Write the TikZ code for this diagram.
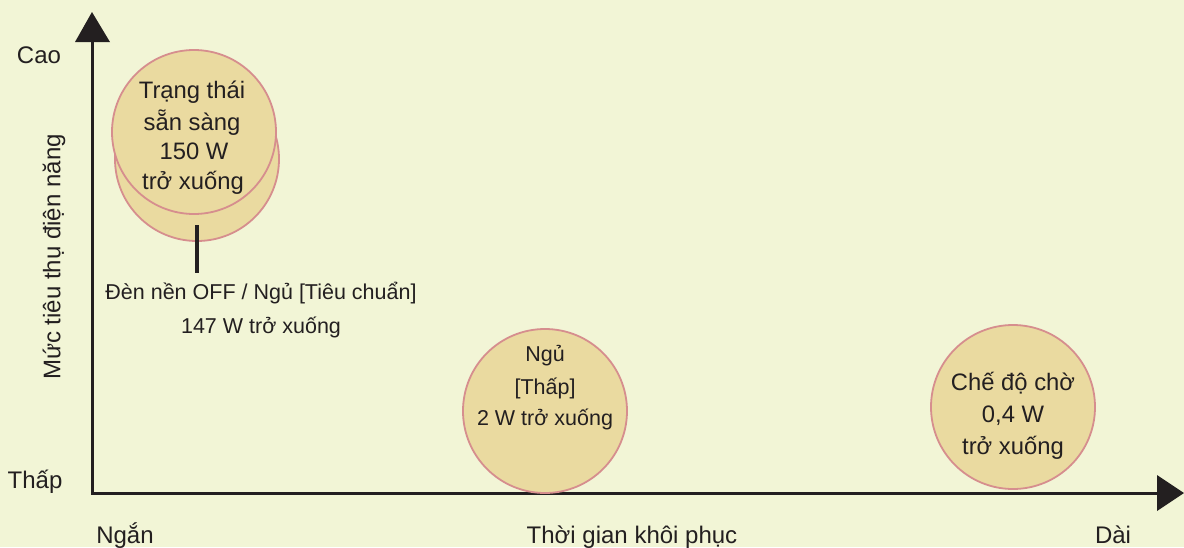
\documentclass[tikz,border=0pt]{standalone}
\usepackage{fontspec}
\setmainfont{Liberation Sans}
\definecolor{bgc}{RGB}{242,245,214}
\definecolor{fillc}{RGB}{234,218,160}
\definecolor{edgec}{RGB}{214,142,142}
\definecolor{inkc}{RGB}{35,31,32}
\tikzset{
  bub/.style={circle, draw=edgec, line width=1.8pt, fill=fillc, minimum size=164pt, inner sep=0pt},
  lbl/.style={text=inkc, font=\fontsize{21.5}{21.5}\selectfont, inner sep=0pt, anchor=base},
  biglbl/.style={text=inkc, font=\fontsize{23.8}{23.8}\selectfont, inner sep=0pt, anchor=base},
  axlbl/.style={text=inkc, font=\fontsize{24}{24}\selectfont, inner sep=0pt, anchor=base},
  axis/.style={draw=inkc, line width=3pt},
  tip/.style={fill=inkc, draw=none}
}
\begin{document}
\begin{tikzpicture}[x=1pt,y=-1pt]
\fill[bgc] (0,0) rectangle (1184,547);
\useasboundingbox (0,0) rectangle (1184,547);
% axes
\coordinate (O) at (92,493);
\coordinate (Ytop) at (92,40);
\coordinate (Xend) at (1160,493);
\draw[axis] (Ytop) -- (O) -- (Xend);
\fill[tip] (75,42) -- (92,12) -- (110,42) -- cycle;
\fill[tip] (1157,475) -- (1184,493) -- (1157,511) -- cycle;
% circles
\node[bub] (back) at (197,159) {};
\node[bub] (front) at (194,132) {};
\node[bub] (mid) at (545,411) {};
\node[bub] (right) at (1013,407) {};
% front text
\node[biglbl] at (192,98) {Trạng thái};
\node[biglbl] at (192,130) {sẵn sàng};
\node[biglbl] at (194,159) {150 W};
\node[biglbl] at (193,189) {trở xuống};
% pointer
\coordinate (ptop) at (197,225);
\coordinate (pbot) at (197,273);
\draw[draw=inkc, line width=3.5pt] (ptop) -- (pbot);
\node[lbl] (l1) at (261,299) {Đèn nền OFF / Ngủ [Tiêu chuẩn]};
\node[lbl] (l2) at (261,333) {147 W trở xuống};
% mid text
\node[lbl] at (545,361) {Ngủ};
\node[lbl] at (545,394) {[Thấp]};
\node[lbl] at (545,425) {2 W trở xuống};
% right text
\node[biglbl] at (1013,390) {Chế độ chờ};
\node[biglbl] at (1013,422) {0,4 W};
\node[biglbl] at (1013,454) {trở xuống};
% axis labels
\node[axlbl] at (39,63) {Cao};
\node[axlbl] at (35,488) {Thấp};
\node[axlbl] at (125,543) {Ngắn};
\node[axlbl] at (632,543) {Thời gian khôi phục};
\node[axlbl] at (1113,543) {Dài};
\node[text=inkc, font=\fontsize{24}{24}\selectfont, inner sep=0pt, rotate=90] at (54,257) {Mức tiêu thụ điện năng};
\end{tikzpicture}
\end{document}
